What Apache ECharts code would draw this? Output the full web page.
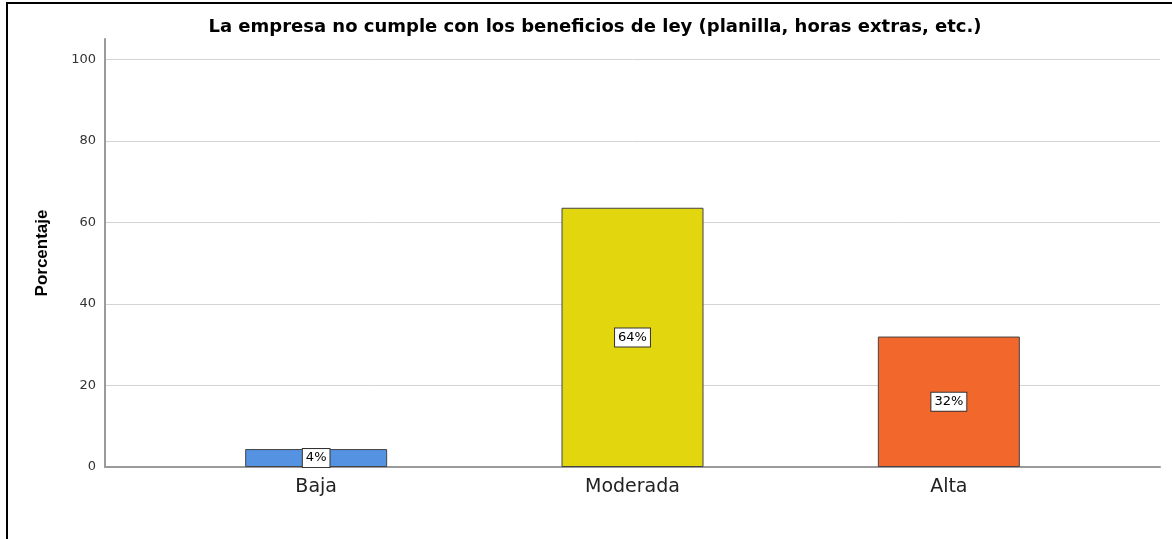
<!DOCTYPE html>
<html>
<head>
<meta charset="utf-8">
<script src="https://cdn.jsdelivr.net/npm/echarts@6/dist/echarts.min.js"></script>
<style>
html,body{margin:0;padding:0;background:#fff;}
#chart{position:absolute;left:0;top:0;width:1172px;height:539px;}
#frame{position:absolute;left:6px;top:2px;width:1166px;height:537px;border-left:2px solid #000;border-top:2px solid #000;box-sizing:border-box;pointer-events:none;}
</style>
</head>
<body>
<div id="chart"></div>
<div id="frame"></div>
<script>
const titleText = 'La empresa no cumple con los beneficios de ley (planilla, horas extras, etc.)';
const categories = ['Baja', 'Moderada', 'Alta'];
const values = [4.4, 63.6, 32.0];
const percentLabels = ['4%', '64%', '32%'];
const barColors = ['#5592e2', '#e2d60f', '#f2672b'];
const yAxisName = 'Porcentaje';

const chart = echarts.init(document.getElementById('chart'), null, {renderer: 'canvas'});
const TOP = 39, BOTTOM = 72, YMAX = 105;
const WIDE = 'DejaVu Sans, Verdana, sans-serif';

chart.setOption({
  animation: false,
  title: {
    text: titleText,
    left: 590, top: 13, textAlign: 'center',
    textStyle: {fontFamily: WIDE, fontSize: 18, fontWeight: 'bold', color: '#000'}
  },
  grid: [
    {left: 105, right: 12, top: TOP, bottom: BOTTOM},
    {left: 158, right: 65, top: TOP, bottom: BOTTOM}
  ],
  xAxis: [
    {gridIndex: 0, type: 'category', data: [''], axisTick: {show: false}, axisLabel: {show: false},
     axisLine: {show: true, lineStyle: {color: '#9a9a9a', width: 2}}},
    {gridIndex: 1, type: 'category', data: categories, axisTick: {show: false}, axisLine: {show: false},
     axisLabel: {fontFamily: WIDE, fontSize: 19, color: '#222', margin: 11}}
  ],
  yAxis: [
    {gridIndex: 0, type: 'value', min: 0, max: YMAX, interval: 20,
     name: yAxisName, nameLocation: 'middle', nameGap: 54, nameRotate: 90,
     nameTextStyle: {fontFamily: 'Liberation Sans, Arial, sans-serif', fontSize: 17, fontWeight: 'bold', color: '#000'},
     axisLine: {show: true, lineStyle: {color: '#9a9a9a', width: 2}},
     axisTick: {show: false},
     axisLabel: {showMaxLabel: false, fontFamily: WIDE, fontSize: 13, color: '#333', margin: 9},
     splitLine: {show: true, showMaxLine: false, lineStyle: {color: '#d4d4d4', width: 1}}},
    {gridIndex: 1, type: 'value', min: 0, max: YMAX, show: false, splitLine: {show: false}}
  ],
  series: [{
    type: 'bar',
    xAxisIndex: 1, yAxisIndex: 1,
    barWidth: 142,
    data: values.map((v, i) => ({
      value: v,
      itemStyle: {color: barColors[i], borderColor: '#444', borderWidth: 1}
    })),
    label: {
      show: true, position: 'inside',
      formatter: p => percentLabels[p.dataIndex],
      fontFamily: WIDE, fontSize: 13, color: '#000',
      backgroundColor: '#fff', borderColor: '#333', borderWidth: 1,
      padding: [3, 3, 2, 3]
    }
  }]
});
</script>
</body>
</html>
